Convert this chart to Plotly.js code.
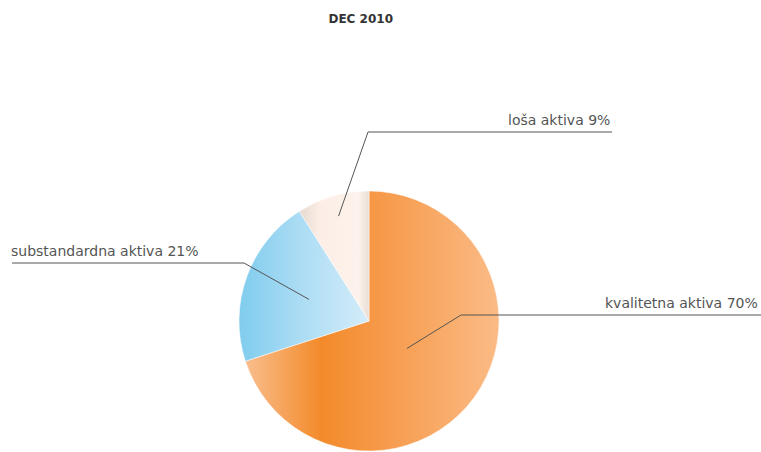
<!DOCTYPE html>
<html>
<head>
<meta charset="utf-8">
<script src="https://cdn.plot.ly/plotly-3.0.1.min.js"></script>
<style>html,body{margin:0;padding:0;background:#fff;}#chart{width:761px;height:452px;}</style>
</head>
<body>
<div id="chart"></div>
<script>
// ---- data ----
var title = "DEC 2010";
var categories = ["kvalitetna aktiva", "substandardna aktiva", "loša aktiva"];
var values = [70, 21, 9];
var labelsText = ["kvalitetna aktiva 70%", "substandardna aktiva 21%", "loša aktiva 9%"];

// ---- style ----
var W = 761, H = 452;
var cx = 369, cy = 321, R = 130;
var colors = ["#F69A4A", "#ADDCF3", "#FAEEE6"];
var anchorFrac = [0.36, 0.49, 0.84];
var elbows = [[461, 315], [244, 263], [368, 132]];
var ends = [761, 12, 612];
var textX = [760, 9, 612];
var textAnchor = ["right", "left", "right"];
var lineColor = "#555555";
var textColor = "#555555";

function px(x) { return x / W; }
function py(y) { return 1 - y / H; }

var total = values.reduce(function (a, b) { return a + b; }, 0);
var shapes = [], annotations = [];
var cum = 0;
for (var i = 0; i < values.length; i++) {
  var mid = (cum + values[i] / 2) / total * 2 * Math.PI;
  cum += values[i];
  var ax = cx + anchorFrac[i] * R * Math.sin(mid);
  var ay = cy - anchorFrac[i] * R * Math.cos(mid);
  var e = elbows[i];
  shapes.push({type: "line", xref: "paper", yref: "paper", x0: px(ax), y0: py(ay), x1: px(e[0]), y1: py(e[1]),
    line: {color: lineColor, width: 1}});
  shapes.push({type: "line", xref: "paper", yref: "paper", x0: px(e[0]), y0: py(e[1]), x1: px(ends[i]), y1: py(e[1]),
    line: {color: lineColor, width: 1}});
  annotations.push({xref: "paper", yref: "paper", x: px(textX[i]), y: py(e[1] - 2), text: labelsText[i],
    showarrow: false, xanchor: textAnchor[i], yanchor: "bottom",
    font: {family: "DejaVu Sans", size: 14, color: textColor}});
}

var trace = {
  type: "pie",
  labels: categories,
  values: values,
  sort: false,
  direction: "clockwise",
  rotation: 0,
  textinfo: "none",
  hoverinfo: "label+percent",
  marker: {colors: colors, line: {color: "#ffffff", width: 0.5}},
  domain: {x: [px(cx - R), px(cx + R)], y: [py(cy + R), py(cy - R)]},
  showlegend: false
};

var layout = {
  width: W, height: H,
  margin: {l: 0, r: 0, t: 0, b: 0},
  paper_bgcolor: "#ffffff",
  title: {text: "<b>" + title + "</b>", x: 0.474, xanchor: "center", y: 1 - 19 / H, yanchor: "middle",
    font: {family: "DejaVu Sans", size: 12, color: "#333333"}},
  shapes: shapes,
  annotations: annotations,
  showlegend: false
};

Plotly.newPlot("chart", [trace], layout, {displayModeBar: false, staticPlot: true}).then(function (gd) {
  var svg = gd.querySelector(".main-svg");
  var ns = "http://www.w3.org/2000/svg";
  var defs = document.createElementNS(ns, "defs");
  var grads = [
    {id: "gOr", stops: [[0, "#F9BE8E"], [0.3, "#F38A2A"], [0.55, "#F69B4C"], [1, "#FBBB86"]]},
    {id: "gBl", stops: [[0, "#80CCEE"], [0.5, "#AEDDF4"], [1, "#D4ECF9"]]},
    {id: "gCr", stops: [[0, "#E6DAD0"], [0.3, "#FCEEE6"], [0.85, "#FDF2EC"], [1, "#E8DED6"]]}
  ];
  grads.forEach(function (g) {
    var lg = document.createElementNS(ns, "linearGradient");
    lg.setAttribute("id", g.id);
    lg.setAttribute("x1", "0"); lg.setAttribute("y1", "0");
    lg.setAttribute("x2", "1"); lg.setAttribute("y2", "0");
    g.stops.forEach(function (s) {
      var st = document.createElementNS(ns, "stop");
      st.setAttribute("offset", s[0]);
      st.setAttribute("stop-color", s[1]);
      lg.appendChild(st);
    });
    defs.appendChild(lg);
  });
  svg.insertBefore(defs, svg.firstChild);
  var paths = gd.querySelectorAll("g.slice path.surface");
  for (var k = 0; k < paths.length && k < grads.length; k++) {
    paths[k].style.fill = "url(#" + grads[k].id + ")";
  }
});
</script>
</body>
</html>
